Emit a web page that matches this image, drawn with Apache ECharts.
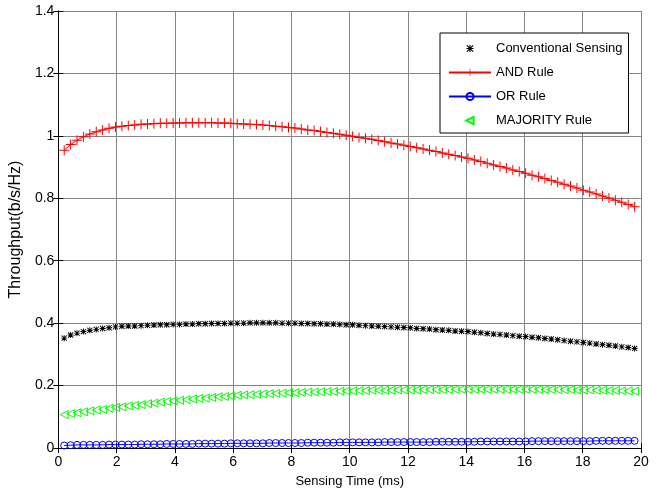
<!DOCTYPE html>
<html>
<head>
<meta charset="utf-8">
<script src="https://cdn.jsdelivr.net/npm/echarts@6/dist/echarts.min.js"></script>
<style>
  html, body { margin: 0; padding: 0; background: #fff; }
  #chart { width: 662px; height: 495px; }
</style>
</head>
<body>
<div id="chart"></div>
<script>
// sensing time (ms)
const sensingTime = [
  0.2, 0.42, 0.64, 0.86, 1.08, 1.3, 1.52, 1.74, 1.96, 2.18,
  2.4, 2.62, 2.84, 3.06, 3.28, 3.5, 3.72, 3.94, 4.16, 4.38,
  4.6, 4.82, 5.04, 5.26, 5.48, 5.7, 5.92, 6.14, 6.36, 6.58,
  6.8, 7.02, 7.24, 7.46, 7.68, 7.9, 8.12, 8.34, 8.56, 8.78,
  9.0, 9.22, 9.44, 9.66, 9.88, 10.1, 10.32, 10.54, 10.76, 10.98,
  11.2, 11.42, 11.64, 11.86, 12.08, 12.3, 12.52, 12.74, 12.96, 13.18,
  13.4, 13.62, 13.84, 14.06, 14.28, 14.5, 14.72, 14.94, 15.16, 15.38,
  15.6, 15.82, 16.04, 16.26, 16.48, 16.7, 16.92, 17.14, 17.36, 17.58,
  17.8, 18.02, 18.24, 18.46, 18.68, 18.9, 19.12, 19.34, 19.56, 19.78
]

const conventional = [
  0.352, 0.362, 0.368, 0.373, 0.377, 0.380, 0.383, 0.385, 0.388, 0.390,
  0.391, 0.391, 0.392, 0.393, 0.394, 0.395, 0.395, 0.396, 0.396, 0.397,
  0.397, 0.398, 0.398, 0.399, 0.399, 0.399, 0.400, 0.400, 0.400, 0.401,
  0.401, 0.401, 0.401, 0.401, 0.400, 0.400, 0.400, 0.399, 0.399, 0.398,
  0.398, 0.397, 0.397, 0.396, 0.395, 0.395, 0.393, 0.392, 0.391, 0.390,
  0.389, 0.388, 0.387, 0.386, 0.385, 0.383, 0.382, 0.381, 0.379, 0.378,
  0.377, 0.375, 0.374, 0.373, 0.371, 0.369, 0.367, 0.365, 0.364, 0.362,
  0.360, 0.358, 0.357, 0.355, 0.353, 0.351, 0.349, 0.347, 0.344, 0.342,
  0.340, 0.338, 0.336, 0.333, 0.331, 0.329, 0.327, 0.324, 0.322, 0.319
]

const andRule = [
  0.954, 0.972, 0.986, 0.997, 1.006, 1.013, 1.019, 1.024, 1.028, 1.031,
  1.033, 1.035, 1.037, 1.038, 1.039, 1.040, 1.040, 1.041, 1.041, 1.042,
  1.042, 1.042, 1.042, 1.042, 1.041, 1.041, 1.040, 1.039, 1.038, 1.037,
  1.036, 1.035, 1.033, 1.031, 1.029, 1.027, 1.025, 1.022, 1.019, 1.017,
  1.014, 1.011, 1.008, 1.005, 1.002, 0.999, 0.995, 0.992, 0.989, 0.985,
  0.981, 0.977, 0.974, 0.970, 0.966, 0.962, 0.958, 0.954, 0.950, 0.945,
  0.941, 0.937, 0.932, 0.928, 0.923, 0.918, 0.912, 0.907, 0.902, 0.897,
  0.891, 0.886, 0.880, 0.874, 0.869, 0.863, 0.857, 0.851, 0.845, 0.839,
  0.833, 0.826, 0.820, 0.814, 0.807, 0.801, 0.794, 0.787, 0.780, 0.773
]

const orRule = [
  0.008, 0.009, 0.010, 0.010, 0.010, 0.010, 0.010, 0.011, 0.011, 0.011,
  0.011, 0.011, 0.012, 0.012, 0.012, 0.012, 0.013, 0.013, 0.013, 0.013,
  0.013, 0.014, 0.014, 0.014, 0.014, 0.014, 0.015, 0.015, 0.015, 0.015,
  0.015, 0.015, 0.016, 0.016, 0.016, 0.016, 0.016, 0.016, 0.017, 0.017,
  0.017, 0.017, 0.017, 0.018, 0.018, 0.018, 0.018, 0.018, 0.018, 0.018,
  0.019, 0.019, 0.019, 0.019, 0.019, 0.019, 0.019, 0.019, 0.020, 0.020,
  0.020, 0.020, 0.020, 0.020, 0.020, 0.021, 0.021, 0.021, 0.021, 0.021,
  0.021, 0.021, 0.021, 0.022, 0.022, 0.022, 0.022, 0.022, 0.022, 0.022,
  0.022, 0.022, 0.022, 0.023, 0.023, 0.023, 0.023, 0.023, 0.023, 0.023
]

const majorityRule = [
  0.107, 0.110, 0.113, 0.116, 0.119, 0.122, 0.124, 0.127, 0.130, 0.132,
  0.135, 0.137, 0.139, 0.142, 0.144, 0.147, 0.149, 0.151, 0.153, 0.155,
  0.157, 0.159, 0.160, 0.162, 0.164, 0.165, 0.167, 0.169, 0.170, 0.171,
  0.172, 0.173, 0.174, 0.175, 0.176, 0.177, 0.177, 0.178, 0.179, 0.179,
  0.180, 0.181, 0.181, 0.182, 0.183, 0.183, 0.184, 0.184, 0.185, 0.185,
  0.185, 0.185, 0.186, 0.186, 0.186, 0.186, 0.187, 0.187, 0.187, 0.187,
  0.187, 0.188, 0.188, 0.188, 0.188, 0.188, 0.188, 0.188, 0.188, 0.188,
  0.188, 0.188, 0.188, 0.188, 0.188, 0.187, 0.187, 0.187, 0.187, 0.187,
  0.186, 0.186, 0.186, 0.185, 0.185, 0.184, 0.184, 0.183, 0.183, 0.182
]

const seriesNames = ['Conventional Sensing', 'AND Rule', 'OR Rule', 'MAJORITY Rule']

// marker shapes (matlab style * and +)
const starPath = 'path://M4.2,0H5.8V10H4.2Z M0,4.2H10V5.8H0Z M1.2,0.1L9.9,8.8L8.8,9.9L0.1,1.2Z M8.8,0.1L9.9,1.2L1.2,9.9L0.1,8.8Z'
const plusPath = 'path://M4.5,0H5.5V10H4.5Z M0,4.5H10V5.5H0Z'

function pairs(ys) {
    return sensingTime.map((x, i) => [x, ys[i]])
}

const font = 'Liberation Sans, Arial, sans-serif'

const chart = echarts.init(document.getElementById('chart'))
chart.setOption({
    animation: false,
    backgroundColor: '#fff',
    textStyle: { fontFamily: font },
    grid: { left: 57, right: 21, top: 11, bottom: 47 },
    legend: {
        orient: 'vertical',
        left: 440,
        top: 33,
        data: seriesNames,
        backgroundColor: '#fff',
        borderColor: '#000',
        borderWidth: 1,
        padding: [9, 6, 6, 8],
        itemWidth: 42,
        itemHeight: 9,
        itemGap: 11,
        textStyle: { fontSize: 13, color: '#000', fontFamily: font }
    },
    xAxis: [
        {
            type: 'value',
            min: 0,
            max: 20,
            interval: 2,
            name: 'Sensing Time (ms)',
            nameLocation: 'middle',
            nameGap: 27,
            nameTextStyle: { fontSize: 13, color: '#000', fontFamily: font },
            axisLine: { lineStyle: { color: '#000', width: 1 } },
            axisTick: { inside: true, length: 5, lineStyle: { color: '#000' } },
            axisLabel: { fontSize: 14, color: '#000', margin: 7, fontFamily: font },
            splitLine: { show: true, lineStyle: { color: '#858585', width: 1 } }
        },
        {
            type: 'value',
            position: 'top',
            min: 0,
            max: 20,
            interval: 2,
            axisLine: { lineStyle: { color: '#000', width: 1 } },
            axisTick: { inside: true, length: 5, lineStyle: { color: '#000' } },
            axisLabel: { show: false },
            splitLine: { show: false }
        }
    ],
    yAxis: [
        {
            type: 'value',
            min: 0,
            max: 1.4,
            interval: 0.2,
            name: 'Throughput(b/s/Hz)',
            nameLocation: 'middle',
            nameGap: 30,
            nameTextStyle: { fontSize: 16, color: '#000', fontFamily: font },
            axisLine: { show: true, lineStyle: { color: '#000', width: 1 } },
            axisTick: { show: true, inside: true, length: 5, lineStyle: { color: '#000' } },
            axisLabel: { fontSize: 14, color: '#000', margin: 4, fontFamily: font },
            splitLine: { show: true, lineStyle: { color: '#858585', width: 1 } }
        },
        {
            type: 'value',
            position: 'right',
            min: 0,
            max: 1.4,
            interval: 0.2,
            axisLine: { show: true, lineStyle: { color: '#000', width: 1 } },
            axisTick: { show: true, inside: true, length: 5, lineStyle: { color: '#000' } },
            axisLabel: { show: false },
            splitLine: { show: false }
        }
    ],
    series: [
        {
            name: seriesNames[0],
            type: 'line',
            data: pairs(conventional),
            symbol: starPath,
            symbolSize: 6,
            color: '#000',
            itemStyle: { color: '#000' },
            lineStyle: { width: 0, opacity: 0 }
        },
        {
            name: seriesNames[1],
            type: 'line',
            data: pairs(andRule),
            symbol: plusPath,
            symbolSize: 10,
            color: '#ff0000',
            itemStyle: { color: '#ff0000' },
            lineStyle: { width: 1, color: '#ff0000' }
        },
        {
            name: seriesNames[2],
            type: 'line',
            data: pairs(orRule),
            symbol: 'circle',
            symbolSize: 7,
            color: '#0000ff',
            itemStyle: { color: 'rgba(0,0,0,0)', borderColor: '#0000ff', borderWidth: 1 },
            lineStyle: { width: 1, color: '#0000ff' }
        },
        {
            name: seriesNames[3],
            type: 'line',
            data: pairs(majorityRule),
            symbol: 'triangle',
            symbolRotate: 90,
            symbolSize: 8,
            color: '#00ff00',
            itemStyle: { color: 'rgba(0,0,0,0)', borderColor: '#00ff00', borderWidth: 1 },
            lineStyle: { width: 0, opacity: 0 }
        }
    ]
})
</script>
</body>
</html>
